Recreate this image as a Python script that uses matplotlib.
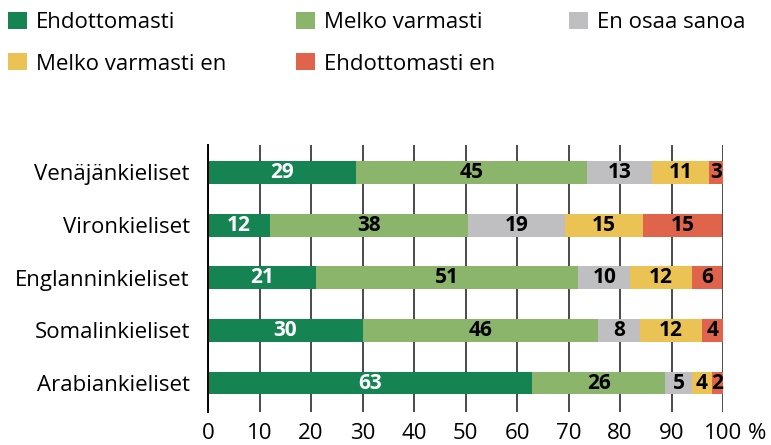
import matplotlib
matplotlib.use("Agg")
import matplotlib.pyplot as plt
from matplotlib.patches import Rectangle
import numpy as np

plt.rcParams['font.family'] = ['Open Sans', 'DejaVu Sans']

categories = ["Venäjänkieliset", "Vironkieliset", "Englanninkieliset",
              "Somalinkieliset", "Arabiankieliset"]
series_names = ["Ehdottomasti", "Melko varmasti", "En osaa sanoa",
                "Melko varmasti en", "Ehdottomasti en"]
ehdottomasti = [28.7, 12.0, 20.9, 30.1, 63.0]
melko_varmasti = [44.8, 38.4, 51.0, 45.7, 25.8]
en_osaa_sanoa = [12.8, 19.0, 10.1, 8.0, 5.1]
melko_varmasti_en = [10.9, 15.0, 12.0, 12.1, 4.0]
ehdottomasti_en = [2.8, 15.4, 5.9, 4.1, 2.1]
x_ticks = [0, 10, 20, 30, 40, 50, 60, 70, 80, 90, 100]
x_tick_labels = ["0", "10", "20", "30", "40", "50", "60", "70", "80", "90", "100"]
x_unit = "%"

series = [ehdottomasti, melko_varmasti, en_osaa_sanoa, melko_varmasti_en, ehdottomasti_en]
colors = ["#168352", "#8bb56b", "#bfbfc1", "#ebc355", "#e0644c"]
text_colors = ["white", "black", "black", "black", "black"]

W, H = 771, 445
fig = plt.figure(figsize=(W/100, H/100), dpi=100)
ax = fig.add_axes([208/W, 1-412/H, (723-208)/W, (412-145)/H])

y = np.arange(len(categories))
left = np.zeros(len(categories))
for vals, col, tcol, name in zip(series, colors, text_colors, series_names):
    vals = np.array(vals)
    ax.barh(y, vals, left=left, height=0.435, color=col, label=name, zorder=3)
    for yi, l, v in zip(y, left, vals):
        ax.text(l + v/2, yi, f"{round(v):d}", ha="center", va="center",
                color=tcol, fontsize=15, fontweight="bold", zorder=4)
    left += vals

ax.set_xlim(0, 100)
ax.set_ylim(len(categories) - 1 + 0.55, -0.52)
ax.set_yticks(y)
ax.set_yticklabels(categories, fontsize=16)
ax.set_xticks(x_ticks)
ax.set_xticklabels(x_tick_labels, fontsize=16)
ax.tick_params(axis="both", length=0)
ax.tick_params(axis="x", pad=8)
ax.tick_params(axis="y", pad=13)
ax.annotate(x_unit, xy=(100, 0), xycoords=ax.get_xaxis_transform(),
            xytext=(18, -8), textcoords="offset points",
            ha="left", va="top", fontsize=16)
ax.grid(axis="x", color="#4a4a4a", linewidth=1.4, zorder=0)
ax.grid(axis="y", visible=False)
for s in ["top", "right", "bottom"]:
    ax.spines[s].set_visible(False)
ax.spines["left"].set_color("black")
ax.spines["left"].set_linewidth(1.4)
ax.spines["left"].set_zorder(5)

# legend laid out as in the reference (3 columns, 2 rows)
col_x = [8, 296, 569]
row_y = [20.5, 61.5]
for k in range(len(series_names)):
    r, c = divmod(k, 3)
    x0, yc = col_x[c], row_y[r]
    fig.add_artist(Rectangle((x0/W, 1-(yc+8.5)/H), 19/W, 17/H,
                             transform=fig.transFigure, facecolor=colors[k],
                             edgecolor="none"))
    fig.text((x0+28)/W, 1-yc/H, series_names[k], fontsize=16,
             ha="left", va="center_baseline")

fig.savefig("out.png", dpi=100)
